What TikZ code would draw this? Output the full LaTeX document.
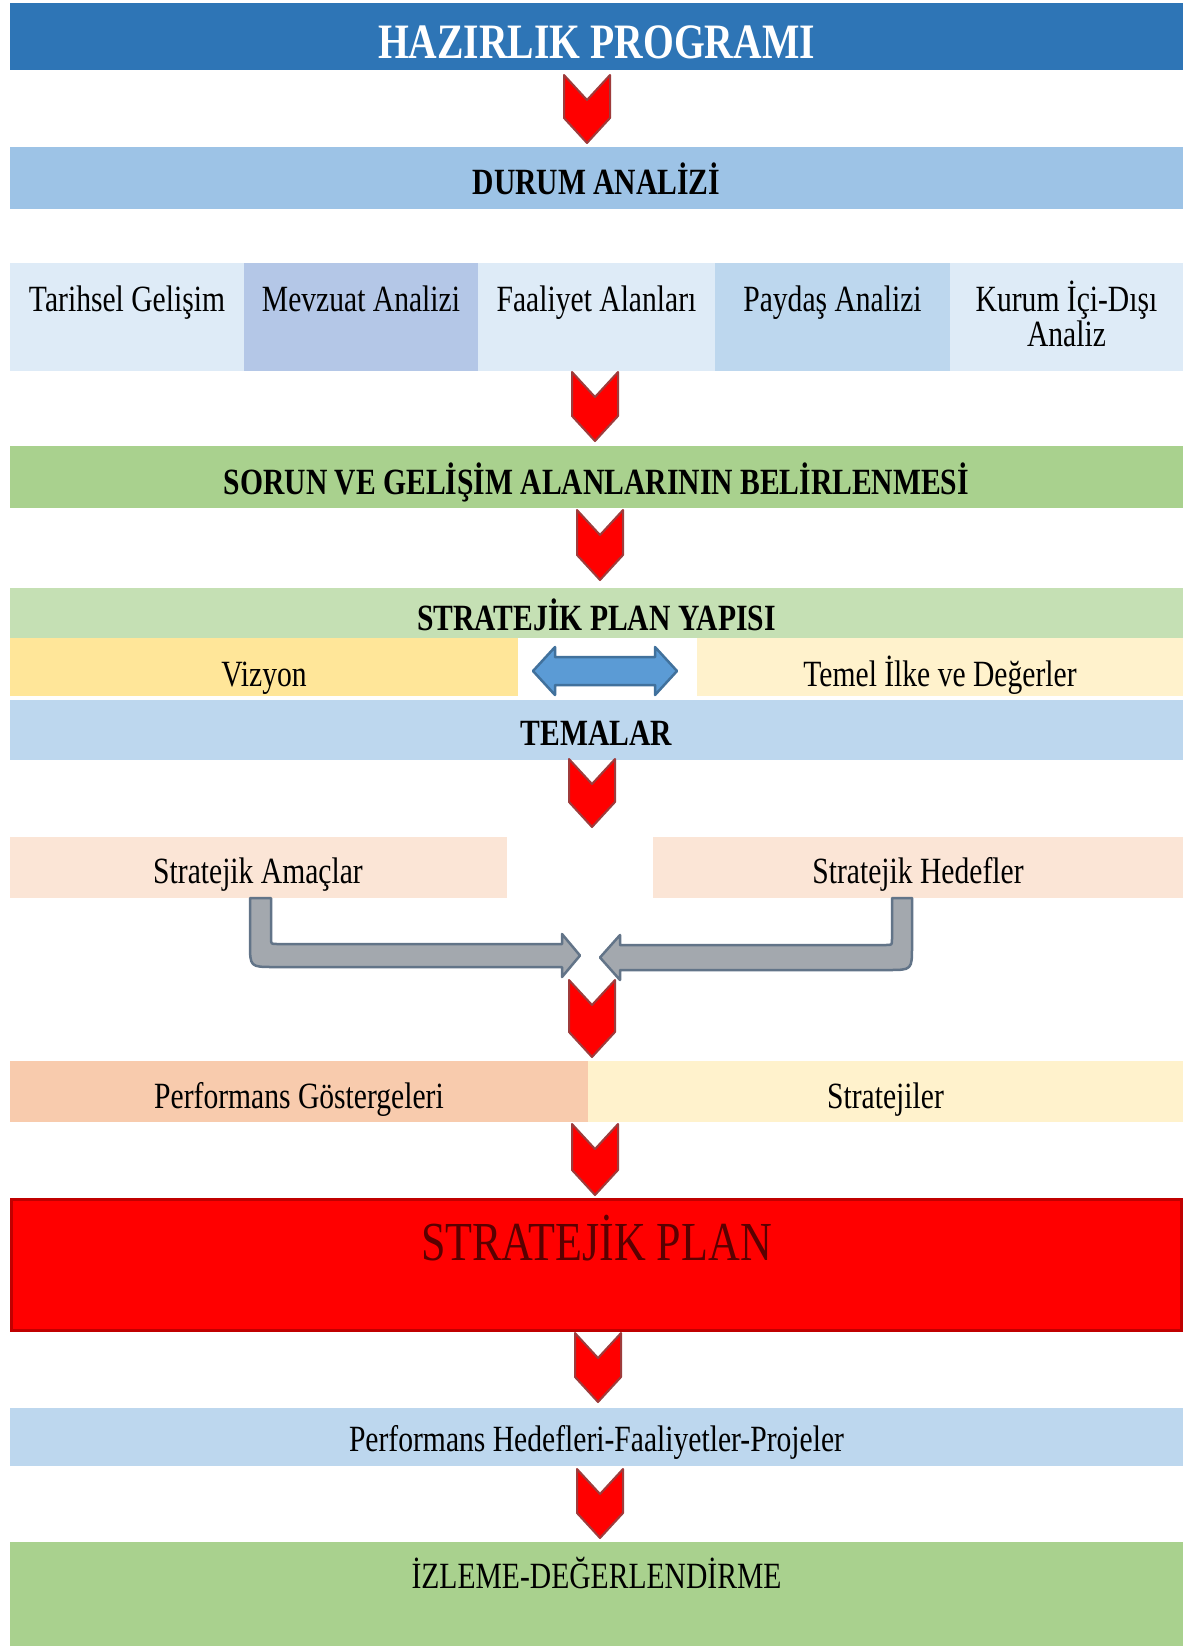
\documentclass[tikz,border=0pt]{standalone}
\usepackage{fontspec}
\setmainfont[FakeStretch=0.8]{Liberation Serif}
\definecolor{cTitle}{HTML}{2E75B6}
\definecolor{cDurum}{HTML}{9DC3E6}
\definecolor{cLight}{HTML}{DEEBF7}
\definecolor{cMev}{HTML}{B4C7E7}
\definecolor{cPay}{HTML}{BDD7EE}
\definecolor{cGreen}{HTML}{A9D18E}
\definecolor{cLGreen}{HTML}{C5E0B4}
\definecolor{cVizyon}{HTML}{FFE699}
\definecolor{cCream}{HTML}{FFF2CC}
\definecolor{cPeach}{HTML}{FBE5D6}
\definecolor{cSalmon}{HTML}{F8CBAD}
\definecolor{cRedEdge}{HTML}{C00000}
\definecolor{cPlanTxt}{HTML}{5A0000}
\definecolor{chevEdge}{HTML}{9E3B3B}
\definecolor{cDbl}{HTML}{5B9BD5}
\definecolor{cDblEdge}{HTML}{41719C}
\definecolor{gArrow}{HTML}{A3A8AE}
\definecolor{gEdge}{HTML}{627488}
\newcommand\chevdown[3]{%
  \draw[chev] (#1-23,#2) -- (#1,#2+25) -- (#1+23,#2) -- (#1+23,#2+#3-25) -- (#1,#2+#3) -- (#1-23,#2+#3-25) -- cycle;}
\begin{document}
\begin{tikzpicture}[x=1pt,y=-1pt,
  txt/.style={font=\fontsize{37}{40}\selectfont, inner sep=0pt, anchor=base},
  hd/.style={txt, font=\fontsize{37}{40}\selectfont\bfseries},
  chev/.style={fill=red, draw=chevEdge, line width=2pt, line join=round},
  garrow/.style={fill=gArrow, draw=gEdge, line width=2.5pt, line join=round},
  dbl/.style={fill=cDbl, draw=cDblEdge, line width=2.5pt, line join=round}]
\useasboundingbox (0,0) rectangle (1193,1646);
\fill[white] (0,0) rectangle (1193,1646);

% ---- bands ----
\fill[cTitle] (10,3.5) rectangle (1183,70);
\node[hd, font=\fontsize{49.5}{52}\selectfont\bfseries, text=white] (hazirlik) at (596.5,59) {HAZIRLIK PROGRAMI};

\fill[cDurum] (10,147) rectangle (1183,209);
\node[hd] (durum) at (596.5,194) {DURUM ANALİZİ};

\fill[cLight] (10,263) rectangle (244,371);
\fill[cMev] (244,263) rectangle (478,371);
\fill[cLight] (478,263) rectangle (715,371);
\fill[cPay] (715,263) rectangle (950,371);
\fill[cLight] (950,263) rectangle (1183,371);
\node[txt] (tarihsel) at (127,311) {Tarihsel Gelişim};
\node[txt] (mevzuat) at (361,311) {Mevzuat Analizi};
\node[txt] (faaliyet) at (596.5,311) {Faaliyet Alanları};
\node[txt] (paydas) at (832.5,311) {Paydaş Analizi};
\node[txt] (kurum) at (1066.5,311) {Kurum İçi-Dışı};
\node[txt] (kurum2) at (1066.5,346) {Analiz};

\fill[cGreen] (10,446) rectangle (1183,508);
\node[hd] (sorun) at (596.5,494) {SORUN VE GELİŞİM ALANLARININ BELİRLENMESİ};

\fill[cLGreen] (10,588) rectangle (1183,638);
\node[hd] (yapi) at (596.5,630) {STRATEJİK PLAN YAPISI};

\fill[cVizyon] (10,638) rectangle (518,696);
\fill[cCream] (697,638) rectangle (1183,696);
\node[txt] (vizyon) at (264,686) {Vizyon};
\node[txt] (temel) at (940,686) {Temel İlke ve Değerler};

\fill[cPay] (10,700) rectangle (1183,760);
\node[hd] (temalar) at (596.5,745) {TEMALAR};

\fill[cPeach] (10,837) rectangle (507,898);
\fill[cPeach] (653,837) rectangle (1183,898);
\node[txt] (amac) at (258,883) {Stratejik Amaçlar};
\node[txt] (hedef) at (918,883) {Stratejik Hedefler};

\fill[cSalmon] (10,1061) rectangle (588,1122);
\fill[cCream] (588,1061) rectangle (1183,1122);
\node[txt] (gosterge) at (299,1108) {Performans Göstergeleri};
\node[txt] (strateji) at (885.5,1108) {Stratejiler};

\filldraw[fill=red, draw=cRedEdge, line width=3pt] (11.5,1199.5) rectangle (1181.5,1330.5);
\node[txt, font=\fontsize{55}{58}\selectfont, text=cPlanTxt] (plan) at (596.5,1260) {STRATEJİK PLAN};

\fill[cPay] (10,1408) rectangle (1183,1466);
\node[txt] (perfhedef) at (596.5,1451) {Performans Hedefleri-Faaliyetler-Projeler};

\fill[cGreen] (10,1542) rectangle (1183,1646);
\node[txt] (izleme) at (596.5,1588) {İZLEME-DEĞERLENDİRME};

% ---- double arrow ----
\draw[dbl] (533,671) -- (555,647) -- (555,657) -- (655,657) -- (655,647) -- (677,671)
  -- (655,695) -- (655,685) -- (555,685) -- (555,695) -- cycle;

% ---- bent gray arrows ----
\draw[garrow] (250,898) -- (250,943) .. controls (250,967) .. (274,967) -- (562,967) -- (562,977)
  -- (580,955.5) -- (562,934) -- (562,944) -- (277,944) .. controls (271,944) .. (271,938) -- (271,898) -- cycle;
\draw[garrow] (912,898) -- (912,946) .. controls (912,970) .. (888,970) -- (620,970) -- (620,980)
  -- (600,957.5) -- (620,935) -- (620,945) -- (886,945) .. controls (892,945) .. (892,939) -- (892,898) -- cycle;

% ---- chevrons ----
\chevdown{587}{75}{68}
\chevdown{595}{372}{69}
\chevdown{600}{510}{70}
\chevdown{592}{759}{68}
\chevdown{592}{980}{77}
\chevdown{595}{1124}{71}
\chevdown{598}{1333}{69}
\chevdown{600}{1469}{69}
\end{tikzpicture}
\end{document}
